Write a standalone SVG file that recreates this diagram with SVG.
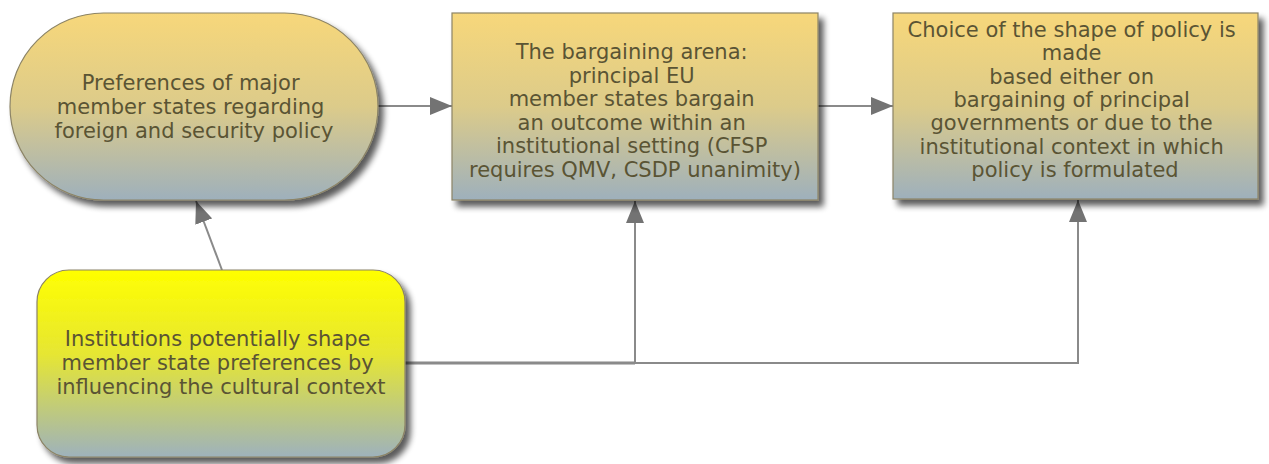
<svg xmlns="http://www.w3.org/2000/svg" width="1269" height="464" viewBox="0 0 1269 464">
  <defs>
    <linearGradient id="gradAmber" x1="0" y1="0" x2="0" y2="1">
      <stop offset="0" stop-color="#f7d77a"/>
      <stop offset="0.5" stop-color="#dccb8a"/>
      <stop offset="1" stop-color="#9eb0bc"/>
    </linearGradient>
    <linearGradient id="gradYellow" x1="0" y1="0" x2="0" y2="1">
      <stop offset="0" stop-color="#ffff00"/>
      <stop offset="0.45" stop-color="#e6e633"/>
      <stop offset="1" stop-color="#9eb2bc"/>
    </linearGradient>
    <filter id="shadow" x="-10%" y="-10%" width="125%" height="130%">
      <feGaussianBlur in="SourceAlpha" stdDeviation="3"/>
      <feOffset dx="5" dy="6" result="blur"/>
      <feComponentTransfer><feFuncA type="linear" slope="0.65"/></feComponentTransfer>
      <feMerge><feMergeNode/><feMergeNode in="SourceGraphic"/></feMerge>
    </filter>
    <marker id="arrow" viewBox="0 0 22 18" refX="22" refY="9" markerWidth="22" markerHeight="18" markerUnits="userSpaceOnUse" orient="auto">
      <path d="M0,0 L22,9 L0,18 Z" fill="#737373"/>
    </marker>
  </defs>
  <style>
    .shape { stroke: #8c8466; stroke-width: 1.2; filter: url(#shadow); }
    .amber { fill: url(#gradAmber); }
    .yellow { fill: url(#gradYellow); }
    .label { font-family: "DejaVu Sans", sans-serif; font-size: 21px; fill: #5a5434; text-anchor: middle; }
    .conn { fill: none; stroke: #8a8a8a; stroke-width: 2; marker-end: url(#arrow); }
    .trunk { fill: none; stroke: #858585; stroke-width: 3; }
  </style>

  <rect width="1269" height="464" fill="#ffffff"/>

  <g id="connectors">
    <path class="conn" d="M378,106 L452,106"/>
    <path class="conn" d="M818,106 L893,106"/>
    <path class="conn" d="M222,270 L196,201"/>
    <path class="trunk" d="M405,363 L635,363"/>
    <path class="conn" d="M405,363 L635,363 L635,201"/>
    <path class="conn" d="M405,363 L1078,363 L1078,200"/>
  </g>

  <g id="node-preferences">
    <rect class="shape amber" x="10" y="13" width="368" height="187" rx="93.5" ry="93.5"/>
    <text class="label">
      <tspan x="194" y="90">Preferences of major</tspan>
      <tspan x="194" y="114">member states regarding</tspan>
      <tspan x="194" y="138">foreign and security policy</tspan>
    </text>
  </g>

  <g id="node-bargaining">
    <rect class="shape amber" x="452" y="13" width="366" height="187"/>
    <text class="label">
      <tspan x="635" y="59">The bargaining arena:</tspan>
      <tspan x="635" y="82.5">principal EU</tspan>
      <tspan x="635" y="106">member states bargain</tspan>
      <tspan x="635" y="129.5">an outcome within an</tspan>
      <tspan x="635" y="153">institutional setting (CFSP</tspan>
      <tspan x="635" y="176.5">requires QMV, CSDP unanimity)</tspan>
    </text>
  </g>

  <g id="node-choice">
    <rect class="shape amber" x="893" y="13" width="365" height="186"/>
    <text class="label">
      <tspan x="1075" y="37">Choice of the shape of policy is</tspan>
      <tspan x="1075" y="60.3">made</tspan>
      <tspan x="1075" y="83.6">based either on</tspan>
      <tspan x="1075" y="106.9">bargaining of principal</tspan>
      <tspan x="1075" y="130.2">governments or due to the</tspan>
      <tspan x="1075" y="153.5">institutional context in which</tspan>
      <tspan x="1075" y="176.8">policy is formulated</tspan>
    </text>
  </g>

  <g id="node-institutions">
    <rect class="shape yellow" x="37" y="270" width="368" height="187" rx="32" ry="32"/>
    <text class="label">
      <tspan x="221" y="346">Institutions potentially shape</tspan>
      <tspan x="221" y="370">member state preferences by</tspan>
      <tspan x="221" y="394">influencing the cultural context</tspan>
    </text>
  </g>
</svg>
